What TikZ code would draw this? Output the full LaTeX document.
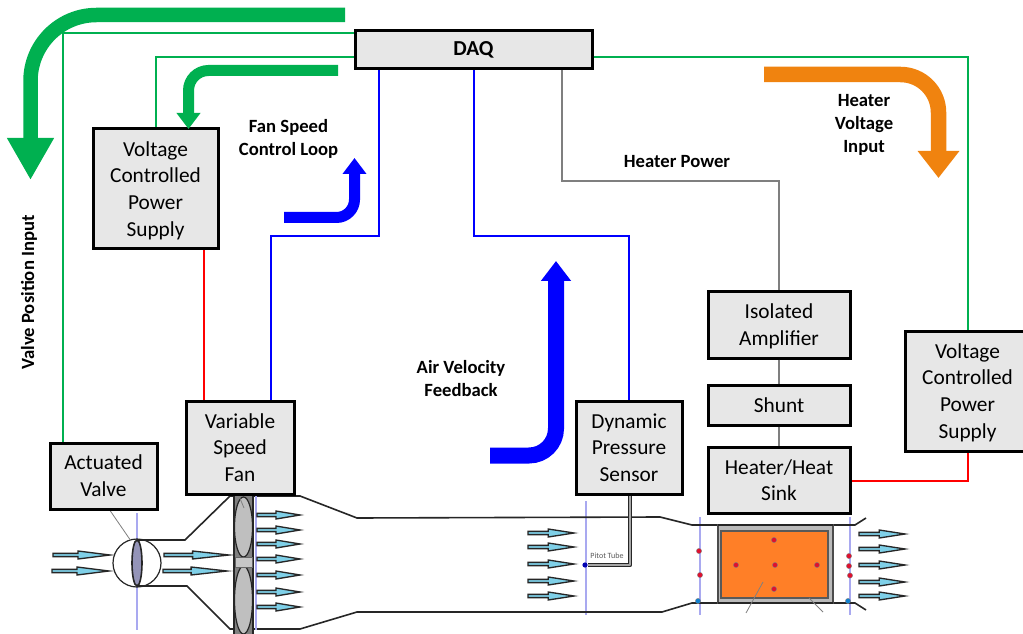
\documentclass[tikz,border=0pt]{standalone}
\usepackage{fontspec}
\setmainfont{Carlito}
\usetikzlibrary{arrows.meta}
\definecolor{boxfill}{HTML}{E7E7E7}
\definecolor{wgreen}{HTML}{00B050}
\definecolor{wblue}{HTML}{0000FF}
\definecolor{wred}{HTML}{FF0000}
\definecolor{wgray}{HTML}{7F7F7F}
\definecolor{oarrow}{HTML}{F0830F}
\definecolor{heat}{HTML}{FF7F27}
\definecolor{flow}{HTML}{7FD0E8}
\definecolor{guide}{HTML}{A9A9F0}
\definecolor{dotred}{HTML}{E0102F}
\definecolor{dotblue}{HTML}{1080D0}
\tikzset{
  unit/.style 2 args={minimum width=#1*0.75pt,minimum height=#2*0.75pt},
  block/.style={draw=black,line width=2.25pt,fill=boxfill,align=center,inner sep=0pt,
    font=\fontsize{16}{20}\selectfont},
  lab/.style={align=center,inner sep=0pt,font=\fontsize{14}{17.2}\selectfont\bfseries},
  wire/.style={line width=1.5pt},
  bigarrow/.style n args={5}{draw=#1,line width=#2*0.75pt,rounded corners=#3*0.75pt,
    -{Triangle[length=#4*0.75pt,width=#5*0.75pt]}},
  duct/.style={draw=black!85,line width=1.2pt},
  guideline/.style={draw=guide,line width=0.9pt},
  leader/.style={draw=gray,line width=0.6pt},
  flowarrow/.style={draw=black!85,fill=flow,line width=1pt,line join=miter},
  sensor/.style={fill=#1,draw=black!50,line width=0.3pt},
}
\newcommand\flowarrow[3]{%
  \path[flowarrow] (#1,#3-1.6) -- ({#1+0.44*(#2-#1)},#3-1.6) -- ({#1+0.44*(#2-#1)},#3-4)
    -- (#2,#3) -- ({#1+0.44*(#2-#1)},#3+4) -- ({#1+0.44*(#2-#1)},#3+1.6) -- (#1,#3+1.6) -- cycle;}
\newcommand\sensordot[3]{\path[sensor=#3] (#1,#2) circle (2.6);}
\newcommand\lowstrut{\rule{0pt}{13.5pt}}
\begin{document}
\begin{tikzpicture}[x=0.75pt,y=-0.75pt]
\path[use as bounding box,clip] (0,0) rectangle (1023,634);
\fill[white] (0,0) rectangle (1023,634);

% ---- duct and test section
\draw[guideline] (137,513) -- (137,630);
\draw[guideline] (586,501) -- (586,615);
\draw[guideline] (700,517) -- (700,615);
\draw[guideline] (850,517) -- (850,615);
\draw[duct] (137,540) -- (185,540) -- (230,496) -- (300,496) -- (357,518) -- (660,517)
  -- (692,525) -- (855,525) -- (866,518);
\draw[duct] (137,586) -- (187,586) -- (230,629) -- (300,629) -- (357,612) -- (662,612)
  -- (692,603) -- (855,603) -- (866,610);

% valve
\draw[duct,line width=0.9pt] (137,563) circle (24);
\draw[duct,fill=gray!80!blue!70] (137,563) ellipse (5 and 23);
\draw[leader] (109,509) -- (131,541);

% fan
\fill[gray] (234,496) rectangle (253,634);
\draw[duct] (234,496) -- (234,634) (253,496) -- (253,634);
\draw[duct,fill=black!25,line width=0.9pt] (243.5,527) ellipse (9 and 30);
\draw[duct,fill=black!25,line width=0.9pt] (243.5,600) ellipse (9 and 34);
\draw[black!60,fill=black!22,line width=0.5pt] (235,557) rectangle (252,567);
\draw[leader] (239,496) -- (244,508);
\draw[guideline] (256,495) -- (256,630);

% heater
\draw[black!70,fill=black!27,line width=0.8pt] (718,525) rectangle (833,603);
\draw[black!65,fill=heat,line width=0.8pt] (721,531) rectangle (828,598);
\draw[duct] (718,525) -- (833,525) (718,603) -- (833,603);
\draw[leader] (763,582) -- (746,613);
\draw[leader] (809,598) -- (823,612);

% sensors
\sensordot{699}{551}{dotred}
\sensordot{700}{575}{dotred}
\sensordot{774}{540}{dotred}
\sensordot{736}{565}{dotred}
\sensordot{775}{565}{dotred}
\sensordot{817}{565}{dotred}
\sensordot{774}{589}{dotred}
\sensordot{849}{556}{dotred}
\sensordot{849}{566}{dotred}
\sensordot{850}{575.5}{dotred}
\sensordot{698}{601}{dotblue}
\sensordot{848}{601}{dotblue}

% flow arrows
\flowarrow{53}{110}{555}
\flowarrow{52}{109}{571}
\flowarrow{164}{229}{555}
\flowarrow{163}{227}{571}
\foreach \yy in {515,530,544,559,575,592,607} {\flowarrow{257}{300}{\yy}}
\foreach \yy in {533,547,564,581,596} {\flowarrow{528}{574}{\yy}}
\foreach \yy in {534,549,565,582,596} {\flowarrow{859}{905}{\yy}}

% ---- blocks
\node[block,unit={237}{38},font=\fontsize{16}{20}\selectfont\bfseries] (daq) at (473.5,50) {DAQ};
\node[block,unit={125}{120}] (vcpsl) at (155.5,189) {\lowstrut Voltage\\Controlled\\Power\\Supply};
\node[block,unit={108}{93}] (fan) at (240,447.5) {Variable\\Speed\\Fan};
\node[block,unit={107}{66}] (valve) at (103.5,476) {Actuated\\Valve};
\node[block,unit={106}{93}] (dps) at (629,447.5) {Dynamic\\Pressure\\Sensor};
\node[block,unit={142}{66}] (amp) at (779,325) {\lowstrut Isolated\\Amplifier};
\node[block,unit={142}{40}] (shunt) at (779,405) {Shunt};
\node[block,unit={142}{66}] (heater) at (779,480) {Heater/Heat\\Sink};
\node[block,unit={125}{120}] (vcpsr) at (967.5,391) {\lowstrut Voltage\\Controlled\\Power\\Supply};

% pitot tube
\node[inner sep=0pt,font=\fontsize{6}{7}\selectfont,text=black!65] (pitot) at (607,556) {Pitot Tube};
\coordinate (pitotend) at (588,565);
\draw[black!85,line width=3.2pt,line join=round] (dps.south -| 630,0) |- (pitotend);
\draw[black!35,line width=1.6pt,line join=round] (dps.south -| 630,0) |- (pitotend);
\fill[blue!70!black] (585,565) circle (2.6);

% ---- wires
\draw[wire,wgreen] (daq.west |- 0,33) -- (63,33) -- (valve.north -| 63,0);
\draw[wire,wgreen] (daq.west |- 0,57) -- (156,57) -- (vcpsl.north -| 156,0);
\draw[wire,wgreen] (daq.east |- 0,57) -- (968,57) -- (vcpsr.north -| 968,0);
\draw[wire,wblue] (daq.south -| 379,0) -- (379,236) -- (271,236) -- (fan.north -| 271,0);
\draw[wire,wblue] (daq.south -| 474,0) -- (474,236) -- (629,236) -- (dps.north -| 629,0);
\draw[wire,wgray] (daq.south -| 562,0) -- (562,181) -- (779,181) -- (amp.north);
\draw[wire,wgray] (amp.south) -- (shunt.north);
\draw[wire,wgray] (shunt.south) -- (heater.north);
\draw[wire,wred] (vcpsl.south -| 204,0) -- (fan.north -| 204,0);
\draw[wire,wred] (heater.east |- 0,481) -- (968,481) -- (vcpsr.south -| 968,0);

% ---- thick signal arrows
\coordinate (a1s) at (345,15); \coordinate (a1m) at (30.5,15); \coordinate (a1e) at (30.5,180);
\draw[bigarrow={wgreen}{14.5}{66}{42}{44}] (a1s) -- (a1m) -- (a1e);
\coordinate (a2s) at (338,70.5); \coordinate (a2m) at (188.5,70.5); \coordinate (a2e) at (188.5,129);
\draw[bigarrow={wgreen}{11}{20}{16}{23}] (a2s) -- (a2m) -- (a2e);
\coordinate (a3s) at (284,217.5); \coordinate (a3m) at (354.5,217.5); \coordinate (a3e) at (354.5,158);
\draw[bigarrow={wblue}{11}{18}{16}{23}] (a3s) -- (a3m) -- (a3e);
\coordinate (a4s) at (490,455.5); \coordinate (a4m) at (556,455.5); \coordinate (a4e) at (556,261);
\draw[bigarrow={wblue}{16}{27}{20}{29}] (a4s) -- (a4m) -- (a4e);
\coordinate (a5s) at (764,74.5); \coordinate (a5m) at (938.5,74.5); \coordinate (a5e) at (938.5,178);
\draw[bigarrow={oarrow}{15.5}{38}{27}{40}] (a5s) -- (a5m) -- (a5e);

% ---- labels
\node[lab] (l1) at (288.5,138.5) {Fan Speed\\Control Loop};
\node[lab] (l2) at (677,162) {Heater Power};
\node[lab] (l3) at (864,125) {Heater\\Voltage\\Input};
\node[lab] (l4) at (461,378.5) {Air Velocity\\Feedback};
\node[lab,rotate=90] (l5) at (29,292.5) {Valve Position Input};
\end{tikzpicture}
\end{document}
